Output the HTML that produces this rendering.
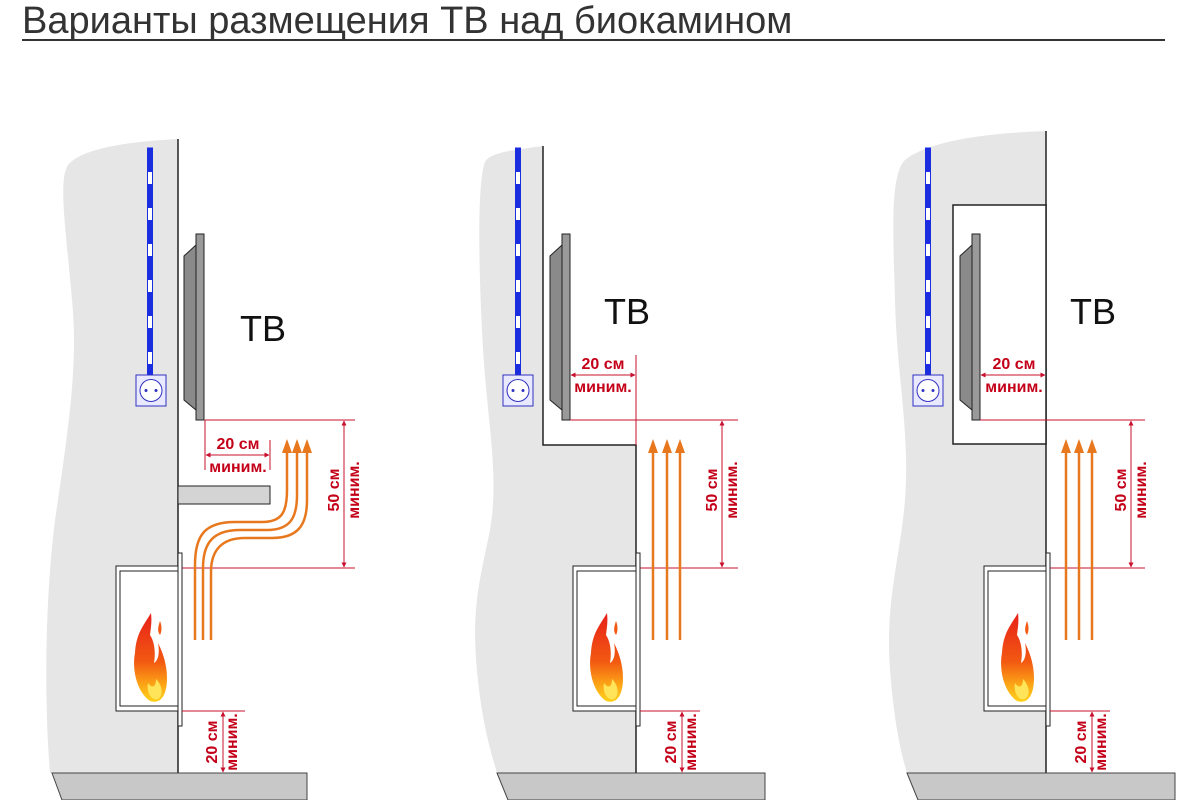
<!DOCTYPE html>
<html><head><meta charset="utf-8"><style>
html,body{margin:0;padding:0;background:#fff;width:1200px;height:800px;overflow:hidden}
svg{display:block}
.t{font-family:"Liberation Sans",sans-serif}
.r{font-family:"Liberation Sans",sans-serif;font-weight:bold;font-size:16px;fill:#c40018}
.d{stroke:#c8102e;stroke-width:1;fill:none}
.o{stroke:#e8781e;stroke-width:2.5;fill:none}
</style></head><body>
<svg width="1200" height="800" viewBox="0 0 1200 800" xmlns="http://www.w3.org/2000/svg">
<defs>
<linearGradient id="fg" x1="0" y1="0" x2="0" y2="1">
<stop offset="0" stop-color="#e8201a"/><stop offset="0.55" stop-color="#f25a12"/><stop offset="0.8" stop-color="#fba316"/><stop offset="1" stop-color="#ffd21a"/>
</linearGradient>
<marker id="ah" viewBox="0 0 10 10" refX="9" refY="5" markerWidth="5" markerHeight="5" orient="auto-start-reverse"><path d="M0,0 L10,5 L0,10 z" fill="#c8102e"/></marker>
<g id="flame">
<path d="M17,0 C10,12 2,20 1,40 C-2,55 2,78 16,88 C28,92 33,80 33,65 C33,50 28,38 24,30 C26,40 24,48 20,50 C22,38 20,28 16,22 C17,14 18,8 17,0 Z" fill="url(#fg)"/>
<path d="M26,8 C24,14 23,18 26,22 C28,18 28,13 26,8 Z" fill="#f25a12"/>
<path d="M14,70 C12,80 18,88 24,86 C30,82 28,72 22,66 C22,74 18,76 14,70 Z" fill="#ffe45a"/>
</g>
<g id="sock">
<rect x="0" y="0" width="30" height="31" fill="#e8e8ff" stroke="#3030c0" stroke-width="1"/>
<circle cx="15" cy="15.5" r="11" fill="#fff" stroke="#3030c0" stroke-width="1"/>
<circle cx="10" cy="15.5" r="1.5" fill="#3030c0"/><circle cx="20" cy="15.5" r="1.5" fill="#3030c0"/>
</g>
<g id="wire">
<rect x="-2.5" y="0" width="5" height="227" fill="#fff" stroke="#1a2ee0" stroke-width="1"/>
<line x1="0" y1="0" x2="0" y2="227" stroke="#1a2ee0" stroke-width="5" stroke-dasharray="24 12"/>
</g>
<g id="tv">
<path d="M12,11 L0,22 L0,166 L12,176 Z" fill="#8a8a8a" stroke="#222" stroke-width="1"/>
<rect x="12" y="0" width="8" height="186" fill="#9a9a9a" stroke="#222" stroke-width="1"/>
</g>
</defs>

<text x="22" y="33" class="t" font-size="38" fill="#333">Варианты размещения ТВ над биокамином</text>
<rect x="22" y="39" width="1143" height="2" fill="#333"/>

<!-- ===== Panel 1 ===== -->
<path d="M178,139 C120,142 80,150 68,165 C58,180 66,230 72,300 C78,360 70,420 55,520 C45,600 44,700 50,773 L178,773 Z" fill="#e6e6e6"/>
<line x1="178" y1="139" x2="178" y2="773" stroke="#222" stroke-width="1.5"/>
<use href="#wire" x="150" y="148"/>
<use href="#sock" x="136" y="375"/>
<use href="#tv" x="184" y="234"/>
<text x="240" y="341" class="t" font-size="36" fill="#111">ТВ</text>
<rect x="178" y="486" width="92" height="18" fill="#d4d4d4" stroke="#222" stroke-width="1"/>
<line class="d" x1="205" y1="420" x2="355" y2="420"/>
<line class="d" x1="205" y1="420" x2="205" y2="470"/>
<line class="d" x1="270" y1="440" x2="270" y2="470"/>
<line class="d" x1="206" y1="455" x2="269" y2="455" marker-start="url(#ah)" marker-end="url(#ah)"/>
<text x="238" y="449" class="r" text-anchor="middle">20 см</text>
<text x="238" y="472" class="r" text-anchor="middle">миним.</text>
<line class="d" x1="344" y1="421" x2="344" y2="567" marker-start="url(#ah)" marker-end="url(#ah)"/>
<line class="d" x1="178" y1="568" x2="355" y2="568"/>
<text transform="translate(339,490) rotate(-90)" class="r" text-anchor="middle">50 см</text>
<text transform="translate(359,490) rotate(-90)" class="r" text-anchor="middle">миним.</text>
<path class="o" d="M195,640 L195,565 C195,535 205,522 235,522 L262,522 C282,522 287,512 287,490 L287,450"/>
<path class="o" d="M203,640 L203,568 C203,543 213,530 240,530 L267,530 C290,530 297,518 297,495 L297,450"/>
<path class="o" d="M211,640 L211,572 C211,550 222,538 245,538 L272,538 C298,538 307,525 307,500 L307,450"/>
<path d="M282,453 L287,439 L292,453 Z M292,453 L297,439 L302,453 Z M302,453 L307,439 L312,453 Z" fill="#e8781e"/>
<rect x="116" y="566" width="62" height="145" fill="#fff" stroke="#222" stroke-width="1"/>
<rect x="120" y="571" width="58" height="135" fill="#fff" stroke="#222" stroke-width="1"/>
<rect x="178" y="553" width="4" height="173" fill="#fff" stroke="#222" stroke-width="1"/>
<use href="#flame" x="134" y="613"/>
<line class="d" x1="182" y1="711" x2="245" y2="711"/>
<line class="d" x1="223" y1="712" x2="223" y2="772" marker-start="url(#ah)" marker-end="url(#ah)"/>
<text transform="translate(217,742) rotate(-90)" class="r" text-anchor="middle">20 см</text>
<text transform="translate(237,742) rotate(-90)" class="r" text-anchor="middle">миним.</text>
<path d="M52,773 L307,773 L307,800 L62,800 Z" fill="#c8c8c8" stroke="#444" stroke-width="1"/>

<!-- ===== Panel 2 ===== -->
<path d="M543,146 C515,150 490,152 485,162 C478,180 478,250 482,330 C486,420 500,470 490,530 C480,580 470,610 478,680 C482,720 490,750 497,773 L636,773 L636,445 L543,445 Z" fill="#e6e6e6"/>
<path d="M543,146 L543,445 L636,445 L636,773" fill="none" stroke="#222" stroke-width="1.5"/>
<use href="#wire" x="518" y="148"/>
<use href="#sock" x="503" y="375"/>
<use href="#tv" x="550" y="234"/>
<text x="604" y="324" class="t" font-size="36" fill="#111">ТВ</text>
<line class="d" x1="636" y1="355" x2="636" y2="445"/>
<line class="d" x1="571" y1="375" x2="635" y2="375" marker-start="url(#ah)" marker-end="url(#ah)"/>
<text x="603" y="369" class="r" text-anchor="middle">20 см</text>
<text x="603" y="392" class="r" text-anchor="middle">миним.</text>
<line class="d" x1="570" y1="420" x2="738" y2="420"/>
<line class="d" x1="722" y1="421" x2="722" y2="567" marker-start="url(#ah)" marker-end="url(#ah)"/>
<line class="d" x1="637" y1="568" x2="738" y2="568"/>
<text transform="translate(717,490) rotate(-90)" class="r" text-anchor="middle">50 см</text>
<text transform="translate(737,490) rotate(-90)" class="r" text-anchor="middle">миним.</text>
<path class="o" d="M653,640 L653,450 M667,640 L667,450 M680,640 L680,450"/>
<path d="M648,453 L653,439 L658,453 Z M662,453 L667,439 L672,453 Z M675,453 L680,439 L685,453 Z" fill="#e8781e"/>
<rect x="573" y="566" width="63" height="145" fill="#fff" stroke="#222" stroke-width="1"/>
<rect x="577" y="571" width="59" height="135" fill="#fff" stroke="#222" stroke-width="1"/>
<rect x="636" y="553" width="4" height="173" fill="#fff" stroke="#222" stroke-width="1"/>
<use href="#flame" x="590" y="613"/>
<line class="d" x1="640" y1="711" x2="700" y2="711"/>
<line class="d" x1="682" y1="712" x2="682" y2="772" marker-start="url(#ah)" marker-end="url(#ah)"/>
<text transform="translate(676,742) rotate(-90)" class="r" text-anchor="middle">20 см</text>
<text transform="translate(696,742) rotate(-90)" class="r" text-anchor="middle">миним.</text>
<path d="M497,773 L765,773 L765,800 L508,800 Z" fill="#c8c8c8" stroke="#444" stroke-width="1"/>

<!-- ===== Panel 3 ===== -->
<path d="M1046,131 C990,133 930,140 905,160 C890,175 893,230 895,300 C897,380 910,430 905,500 C900,560 885,600 890,670 C894,720 900,750 907,773 L1046,773 Z" fill="#e6e6e6"/>
<line x1="1046" y1="131" x2="1046" y2="773" stroke="#222" stroke-width="1.5"/>
<rect x="953" y="205" width="93" height="239" fill="#fff" stroke="#222" stroke-width="1.5"/>
<use href="#wire" x="928" y="148"/>
<use href="#sock" x="913" y="375"/>
<use href="#tv" x="960" y="234"/>
<text x="1070" y="324" class="t" font-size="36" fill="#111">ТВ</text>
<line class="d" x1="981" y1="375" x2="1045" y2="375" marker-start="url(#ah)" marker-end="url(#ah)"/>
<text x="1014" y="369" class="r" text-anchor="middle">20 см</text>
<text x="1014" y="392" class="r" text-anchor="middle">миним.</text>
<line class="d" x1="980" y1="420" x2="1145" y2="420"/>
<line class="d" x1="1131" y1="421" x2="1131" y2="567" marker-start="url(#ah)" marker-end="url(#ah)"/>
<line class="d" x1="1046" y1="568" x2="1145" y2="568"/>
<text transform="translate(1126,490) rotate(-90)" class="r" text-anchor="middle">50 см</text>
<text transform="translate(1146,490) rotate(-90)" class="r" text-anchor="middle">миним.</text>
<path class="o" d="M1066,640 L1066,450 M1079,640 L1079,450 M1092,640 L1092,450"/>
<path d="M1061,453 L1066,439 L1071,453 Z M1074,453 L1079,439 L1084,453 Z M1087,453 L1092,439 L1097,453 Z" fill="#e8781e"/>
<rect x="984" y="566" width="62" height="145" fill="#fff" stroke="#222" stroke-width="1"/>
<rect x="988" y="571" width="58" height="135" fill="#fff" stroke="#222" stroke-width="1"/>
<rect x="1046" y="553" width="4" height="173" fill="#fff" stroke="#222" stroke-width="1"/>
<use href="#flame" x="1001" y="613"/>
<line class="d" x1="1050" y1="711" x2="1110" y2="711"/>
<line class="d" x1="1092" y1="712" x2="1092" y2="772" marker-start="url(#ah)" marker-end="url(#ah)"/>
<text transform="translate(1086,742) rotate(-90)" class="r" text-anchor="middle">20 см</text>
<text transform="translate(1106,742) rotate(-90)" class="r" text-anchor="middle">миним.</text>
<path d="M907,773 L1175,773 L1175,800 L918,800 Z" fill="#c8c8c8" stroke="#444" stroke-width="1"/>
</svg>
</body></html>
